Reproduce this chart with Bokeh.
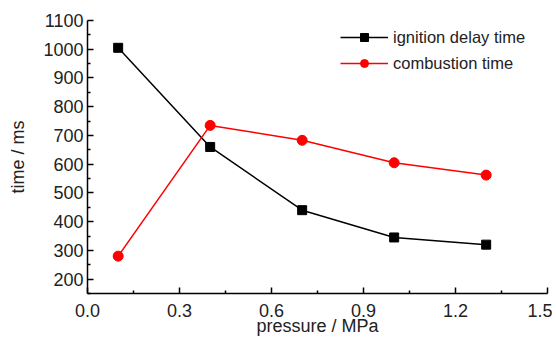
from bokeh.plotting import figure
from bokeh.models import Range1d, FixedTicker, Legend, LegendItem
from bokeh.embed import file_html
from bokeh.resources import INLINE

pressure = [0.1, 0.4, 0.7, 1.0, 1.3]
ignition_delay = [1005, 660, 440, 345, 320]
combustion = [280, 735, 683, 605, 562]
x_ticks = [0.0, 0.3, 0.6, 0.9, 1.2, 1.5]
y_ticks = [200, 300, 400, 500, 600, 700, 800, 900, 1000, 1100]

FONT = "Liberation Sans"

p = figure(width=552, height=340, output_backend="svg", toolbar_location=None,
           x_range=Range1d(0, 1.5), y_range=Range1d(150, 1100),
           min_border_left=87, min_border_top=20, min_border_right=5, min_border_bottom=47)
p.outline_line_color = None
p.xgrid.visible = False
p.ygrid.visible = False

p.xaxis.ticker = FixedTicker(ticks=x_ticks, minor_ticks=[0.15, 0.45, 0.75, 1.05, 1.35])
p.yaxis.ticker = FixedTicker(ticks=y_ticks, minor_ticks=[150, 250, 350, 450, 550, 650, 750, 850, 950, 1050])
p.xaxis.major_label_overrides = {v: f"{v:.1f}" for v in x_ticks}
for ax in (p.xaxis, p.yaxis):
    ax.major_tick_in = 6
    ax.major_tick_out = 0
    ax.minor_tick_in = 3
    ax.minor_tick_out = 0
    ax.axis_line_color = "black"
    ax.axis_line_width = 1.5
    ax.major_tick_line_width = 1.5
    ax.minor_tick_line_width = 1.5
    ax.major_label_text_font = FONT
    ax.major_label_text_font_size = "18px"
    ax.major_label_text_color = "#222222"
    ax.axis_label_text_font = FONT
    ax.axis_label_text_font_size = "18px"
    ax.axis_label_text_font_style = "normal"
    ax.axis_label_text_color = "#222222"
p.xaxis.axis_label = "pressure / MPa"
p.yaxis.axis_label = "time / ms"
p.xaxis.major_label_standoff = 10
p.yaxis.major_label_standoff = 4
p.xaxis.axis_label_standoff = -4
p.yaxis.axis_label_standoff = 12

l1 = p.line(pressure, ignition_delay, line_color="black", line_width=1.5)
m1 = p.scatter(pressure, ignition_delay, marker="square", size=9, color="black")
l2 = p.line(pressure, combustion, line_color="red", line_width=1.5)
m2 = p.scatter(pressure, combustion, marker="circle", size=10, color="red")

legend = Legend(items=[LegendItem(label="ignition delay time", renderers=[l1, m1]),
                       LegendItem(label="combustion time", renderers=[l2, m2])],
                location=(253, 220))
legend.border_line_color = None
legend.background_fill_alpha = 0
legend.label_text_font = FONT
legend.label_text_font_size = "16.5px"
legend.label_text_color = "#222222"
legend.glyph_width = 48
legend.label_standoff = 5
legend.spacing = 6
legend.margin = 0
legend.padding = 5
p.add_layout(legend)

open("out.html", "w").write(file_html(p, INLINE))
